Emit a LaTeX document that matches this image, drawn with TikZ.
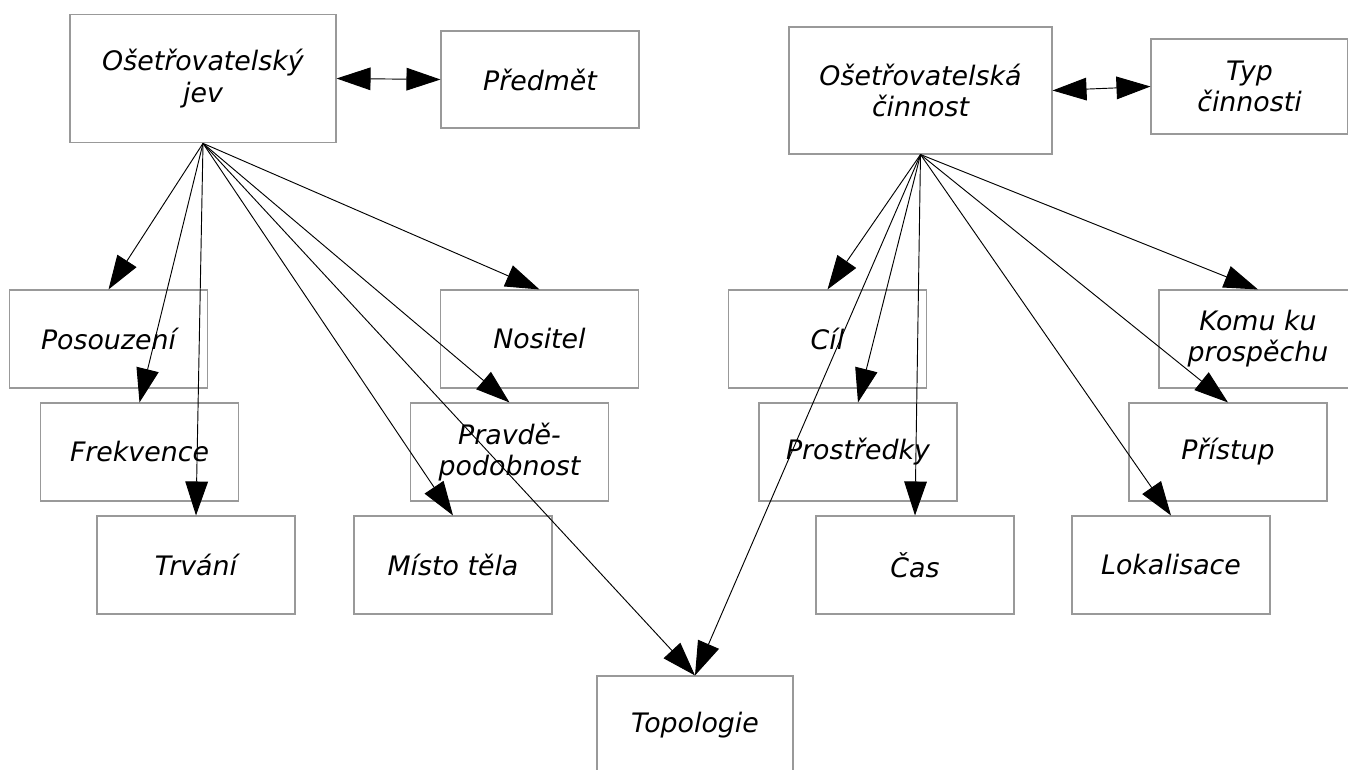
\documentclass[tikz,border=0pt]{standalone}
\usepackage{fontspec}
\setmainfont{DejaVu Sans}
\usetikzlibrary{arrows.meta}
\tikzset{
  box/.style={draw=black!40, line width=0.8pt, minimum width=148.5pt, minimum height=73.5pt,
    align=center, inner sep=0pt, font=\itshape\fontsize{20.1pt}{23.4pt}\selectfont},
  topbox/.style={box, minimum width=199.5pt, minimum height=96.5pt},
  conn/.style={draw=black, line width=0.7pt, -{Triangle[length=25.5pt, width=17pt]}},
  dconn/.style={draw=black, line width=0.7pt, {Triangle[length=25.5pt, width=17pt]}-{Triangle[length=25.5pt, width=17pt]}}
}
\begin{document}
\begin{tikzpicture}[x=0.75pt, y=-0.75pt]
\useasboundingbox (0,0) rectangle (1348,770);
% top boxes
\node[topbox] (jev) at (203,78.5) {Ošetřovatelský\\jev};
\node[box, minimum height=72.75pt] (predmet) at (540,79.5) {Předmět};
\node[topbox, minimum width=197.25pt, minimum height=95.25pt] (cinnost) at (920.5,90.5) {Ošetřovatelská\\činnost};
\node[box, minimum width=147.75pt, minimum height=71.25pt] (typ) at (1249.5,86.5) {Typ\\činnosti};
% left group
\node[box] (posouzeni) at (108.5,339) {Posouzení};
\node[box] (frekvence) at (139.5,452) {Frekvence};
\node[box] (trvani) at (196,565) {Trvání};
\node[box] (nositel) at (539.5,339) {Nositel};
\node[box] (pravdep) at (509.5,452) {Pravdě-\\podobnost};
\node[box] (misto) at (453,565) {Místo těla};
% right group
\node[box] (cil) at (827.5,339) {Cíl};
\node[box] (prostredky) at (858,452) {Prostředky};
\node[box] (cas) at (915,565) {Čas};
\node[box] (komu) at (1258,339) {Komu ku\\prospěchu};
\node[box] (pristup) at (1228,452) {Přístup};
\node[box] (lokalisace) at (1171,565) {Lokalisace};
% bottom
\node[box, minimum width=147pt] (topologie) at (695,725) {Topologie};
% connectors
\draw[dconn] (jev.east) -- (predmet.west);
\draw[dconn] (cinnost.east) -- (typ.west);
\foreach \t in {posouzeni,frekvence,trvani,nositel,pravdep,misto,topologie}
  \draw[conn] (jev.south) -- (\t.north);
\foreach \t in {cil,prostredky,cas,komu,pristup,lokalisace,topologie}
  \draw[conn] (cinnost.south) -- (\t.north);
\end{tikzpicture}
\end{document}
